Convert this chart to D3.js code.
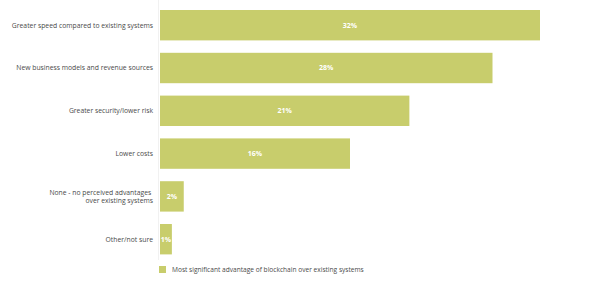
<!DOCTYPE html>
<html>
<head>
<meta charset="utf-8">
<script src="https://cdn.jsdelivr.net/npm/d3@7"></script>
<style>
  body { margin: 0; background: #fff; }
  text { font-family: "Open Sans", sans-serif; }
</style>
</head>
<body>
<svg class="chart"></svg>
<script>
// data
const categories = [
  'Greater speed compared to existing systems',
  'New business models and revenue sources',
  'Greater security/lower risk',
  'Lower costs',
  'None - no perceived advantages \nover existing systems',
  'Other/not sure'
];
const values = [32, 28, 21, 16, 2, 1];
const seriesName = 'Most significant advantage of blockchain over existing systems';

const width = 600, height = 283;
const left = 160;
const barColor = '#c8cd6c';

const svg = d3.select('.chart')
  .attr('width', width)
  .attr('height', height);

const x = d3.scaleLinear().domain([0, 32]).range([left, 540]);
const y = d3.scaleBand().domain(categories).range([3.8, 260.6])
  .paddingInner(0.29).paddingOuter(0.145);

// faint axis line
svg.append('line')
  .attr('x1', left - 1.5).attr('x2', left - 1.5)
  .attr('y1', 0).attr('y2', 260)
  .attr('stroke', '#f1f1f1').attr('stroke-width', 1);

svg.selectAll('.bar')
  .data(values)
  .enter().append('rect')
  .attr('class', 'bar')
  .attr('x', x(0))
  .attr('y', (d, i) => y(categories[i]))
  .attr('width', d => x(d) - x(0))
  .attr('height', y.bandwidth())
  .attr('fill', barColor);

svg.selectAll('.val')
  .data(values)
  .enter().append('text')
  .attr('class', 'val')
  .attr('x', d => (x(d) + x(0)) / 2)
  .attr('y', (d, i) => y(categories[i]) + y.bandwidth() / 2)
  .attr('dy', '0.35em')
  .attr('text-anchor', 'middle')
  .attr('fill', '#fff')
  .attr('font-weight', 'bold')
  .attr('font-size', '7px')
  .text(d => d + '%');

// category labels
const labels = svg.selectAll('.cat')
  .data(categories)
  .enter().append('text')
  .attr('class', 'cat')
  .attr('text-anchor', 'end')
  .attr('fill', '#4a4a4a')
  .attr('font-size', '6.8px')
  .attr('y', d => y(d) + y.bandwidth() / 2);

labels.each(function(d) {
  const lines = d.split('\n');
  const t = d3.select(this);
  lines.forEach((l, k) => {
    t.append('tspan')
      .attr('x', 153)
      .attr('dy', k === 0 ? (0.35 - (lines.length - 1) * 0.6) + 'em' : '1.2em')
      .attr('xml:space', 'preserve')
      .text(l);
  });
});

// legend
svg.append('rect')
  .attr('x', 159).attr('y', 266)
  .attr('width', 7).attr('height', 7)
  .attr('fill', barColor);
svg.append('text')
  .attr('x', 172).attr('y', 269.5)
  .attr('dy', '0.35em')
  .attr('fill', '#4a4a4a')
  .attr('font-size', '6.6px')
  .text(seriesName);
</script>
</body>
</html>
